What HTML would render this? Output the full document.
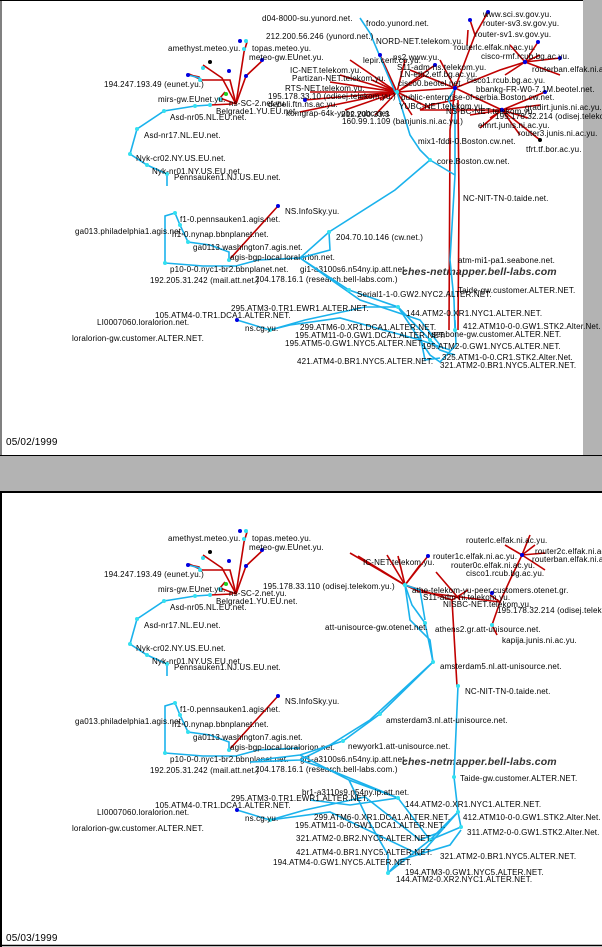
<!DOCTYPE html>
<html><head><meta charset="utf-8"><style>
html,body{margin:0;padding:0;background:#fff}
svg{display:block}
text{font-family:"Liberation Sans",sans-serif;font-size:8px;fill:#000;letter-spacing:0.15px}
.b{stroke:#1ab2ec;stroke-width:1.6;fill:none}
.r{stroke:#c00000;stroke-width:1.6;fill:none}
.k{stroke:#000;stroke-width:0.7;fill:none}
.cn{fill:#33e0f0}
.bn{fill:#0000e0}
.big{font-size:10.5px;font-weight:bold;font-style:italic;fill:#333}
.d{font-size:10px}
</style></head><body>
<svg width="602" height="947" viewBox="0 0 602 947" xmlns="http://www.w3.org/2000/svg">
<rect x="0" y="0" width="602" height="947" fill="#fff"/>
<!-- top panel frame -->
<rect x="583" y="0" width="19" height="456" fill="#b3b3b3"/>
<rect x="0" y="455" width="602" height="37" fill="#b3b3b3"/>
<line x1="0" y1="455.5" x2="602" y2="455.5" stroke="#000" stroke-width="1"/>
<line x1="0" y1="492" x2="602" y2="492" stroke="#000" stroke-width="2"/>
<line x1="1" y1="0" x2="1" y2="456" stroke="#000" stroke-width="1"/>
<line x1="0" y1="0.5" x2="583" y2="0.5" stroke="#000" stroke-width="1"/>
<line x1="1" y1="492" x2="1" y2="947" stroke="#000" stroke-width="2"/>
<line x1="0" y1="945.5" x2="602" y2="945.5" stroke="#000" stroke-width="1.5"/>
<text class="d" x="6" y="445">05/02/1999</text>
<text class="d" x="6" y="941">05/03/1999</text>

<!-- shared left part (Belgrade / EUnet / agis) -->
<defs>
<g id="left">
<polyline class="b" points="210,105 195,106 164,111 137,129 130,154 147,165 167,174 167,186"/>
<polyline class="r" points="210,105 232,104"/>
<polyline class="r" points="236,104 244,52 247,42"/>
<polyline class="r" points="236,104 222,78 203,65"/>
<polyline class="r" points="236,104 220,98 225,92"/>
<polyline class="r" points="236,104 246,76 263,60"/>
<polyline class="r" points="236,104 230,80 202,80"/>
<polyline class="r" points="202,80 189,74"/>
<polyline class="r" points="201,81 199,77 190,75"/>
<line class="b" x1="188" y1="75" x2="200" y2="78"/>
<circle class="cn" cx="210" cy="105" r="2"/><circle class="cn" cx="195" cy="106" r="2"/><circle class="cn" cx="164" cy="111" r="2"/><circle class="cn" cx="137" cy="129" r="2"/><circle class="cn" cx="130" cy="154" r="2"/><circle class="cn" cx="147" cy="165" r="2"/><circle class="cn" cx="167" cy="174" r="2"/>
<circle class="cn" cx="244" cy="49" r="2"/><circle class="bn" cx="240" cy="41" r="2"/><circle class="cn" cx="246" cy="41" r="2"/>
<circle class="cn" cx="203" cy="68" r="2"/><circle cx="210" cy="62" r="2"/><circle class="bn" cx="229" cy="71" r="2"/><circle class="bn" cx="262" cy="60" r="2"/>
<circle class="cn" cx="200" cy="80" r="2"/><circle class="bn" cx="188" cy="75" r="2"/><circle class="bn" cx="246" cy="76" r="2"/><circle class="cn" cx="220" cy="99" r="2"/><circle cx="226" cy="94" r="2" fill="#2c2"/>
<text x="168" y="51">amethyst.meteo.yu.</text><text x="252" y="51">topas.meteo.yu.</text><text x="249" y="60">meteo-gw.EUnet.yu.</text>
<text x="104" y="87">194.247.193.49 (eunet.yu.)</text>
<text x="158" y="102">mirs-gw.EUnet.yu.</text><text x="229" y="106">ns-SC-2.net.yu.</text>
<text x="216" y="114">Belgrade1.YU.EU.net.</text>
<text x="170" y="120">Asd-nr05.NL.EU.net.</text>
<text x="144" y="138">Asd-nr17.NL.EU.net.</text>
<text x="136" y="161">Nyk-cr02.NY.US.EU.net.</text>
<text x="152" y="174">Nyk-nr01.NY.US.EU.net.</text>
<text x="174" y="180">Pennsauken1.NJ.US.EU.net.</text>
<!-- agis -->
<polyline class="b" points="165,263 165,216 175,213 180,225 188,242 210,245 229,252 229,260"/>
<polyline class="b" points="165,263 203,266 236,266 258,260 300,258"/>
<polyline class="r" points="229,260 278,206"/>
<circle class="bn" cx="278" cy="206" r="2"/><circle class="cn" cx="229" cy="260" r="2"/><circle class="cn" cx="165" cy="263" r="2"/><circle class="cn" cx="175" cy="213" r="2"/><circle class="cn" cx="180" cy="225" r="2"/><circle class="cn" cx="188" cy="242" r="2"/>
<text x="285" y="214">NS.InfoSky.yu.</text>
<text x="180" y="222">f1-0.pennsauken1.agis.net.</text>
<text x="75" y="234">ga013.philadelphia1.agis.net.</text>
<text x="172" y="237">h1-0.nynap.bbnplanet.net.</text>
<text x="193" y="250">ga0113.washington7.agis.net.</text>
<text x="230" y="260">agis-bgp-local.loralorion.net.</text>
<text x="170" y="272">p10-0-0.nyc1-br2.bbnplanet.net.</text>
<text x="150" y="283">192.205.31.242 (mail.att.net.)</text>
<text x="255" y="282">204.178.16.1 (research.bell-labs.com.)</text>
<text x="300" y="272">gi1-a3100s6.n54ny.ip.att.net.</text>
<text class="big" x="402" y="275">ches-netmapper.bell-labs.com</text>
</g>
</defs>

<use href="#left"/>
<use href="#left" transform="translate(0,490)"/>

<!-- ===== TOP PANEL specific ===== -->
<!-- red hubs -->
<g class="r">
<polyline points="397,92 350,60"/><polyline points="397,92 340,75"/><polyline points="397,92 330,82"/><polyline points="397,92 310,92"/>
<polyline points="397,92 305,100"/><polyline points="397,92 300,112"/><polyline points="397,92 345,110"/><polyline points="397,92 375,115"/>
<polyline points="397,92 380,55"/><polyline points="397,92 372,80"/><polyline points="397,92 405,60"/><polyline points="397,92 425,75"/>
<polyline points="397,92 435,65"/><polyline points="397,92 455,88"/><polyline points="397,92 412,115"/><polyline points="397,92 430,108"/>
<polyline points="397,92 380,100"/><polyline points="397,92 358,98"/>
<polyline points="455,88 475,35 470,20"/><polyline points="475,35 488,12"/><polyline points="467,45 468,30"/>
<polyline points="455,88 500,70 525,62"/><polyline points="525,62 510,45"/><polyline points="525,62 538,42"/><polyline points="525,62 560,58"/><polyline points="525,62 560,75"/><polyline points="525,62 505,75"/><polyline points="525,62 540,55"/>
<polyline points="455,88 502,110"/><polyline points="502,110 540,105"/><polyline points="502,110 528,118"/><polyline points="502,110 540,140"/><polyline points="502,110 480,128"/><polyline points="502,110 520,135"/><polyline points="502,110 490,118"/><polyline points="502,110 545,92"/><polyline points="502,110 470,115"/>
<polyline points="455,88 450,130 449,330"/><polyline points="458,100 459,200 458,330"/><polyline points="455,100 430,105 420,110 502,110"/>
<polyline points="455,88 440,60"/><polyline points="455,88 410,70"/>
</g>
<g class="b">
<polyline points="360,18 370,33 395,92"/>
<polyline points="397,92 410,135 420,150 430,160 455,175"/>
<polyline points="430,160 395,190 329,232 300,258"/>
<polyline points="455,88 448,100 455,110 455,175 450,260 454,300 455,330"/>
<polyline points="300,258 349,290 398,307 430,340"/>
<polyline points="300,258 360,300 420,320 440,345"/>
<polyline points="300,258 330,250 329,232"/>
<polyline points="237,320 270,330 305,320 365,307 398,307 440,350 455,355"/>
<polyline points="270,330 290,325 340,318 420,340 450,350"/>
<polyline points="398,307 430,355 440,362 456,345 455,320"/>
<polyline points="420,335 425,360 440,358"/>
</g>
<circle class="cn" cx="397" cy="92" r="2.2"/><circle class="bn" cx="455" cy="88" r="2.2"/><circle class="bn" cx="502" cy="110" r="2.2"/><circle class="bn" cx="525" cy="62" r="2.2"/>
<circle class="cn" cx="430" cy="160" r="2"/><circle class="cn" cx="329" cy="232" r="2"/><circle class="cn" cx="349" cy="290" r="2"/><circle class="cn" cx="398" cy="307" r="2"/><circle class="cn" cx="430" cy="340" r="2"/><circle class="cn" cx="270" cy="330" r="2"/><circle class="bn" cx="237" cy="320" r="2"/><circle class="cn" cx="455" cy="330" r="2"/>
<circle class="bn" cx="470" cy="20" r="2"/><circle class="bn" cx="488" cy="12" r="2"/><circle class="bn" cx="560" cy="58" r="2"/><circle class="bn" cx="545" cy="92" r="2"/><circle class="bn" cx="538" cy="42" r="2"/><circle cx="540" cy="140" r="2"/><circle class="bn" cx="305" cy="100" r="2"/><circle class="bn" cx="380" cy="55" r="2"/><circle class="bn" cx="435" cy="65" r="2"/>
<text x="262" y="21">d04-8000-su.yunord.net.</text>
<text x="366" y="26">frodo.yunord.net.</text>
<text x="266" y="39">212.200.56.246 (yunord.net.)</text>
<text x="376" y="44">NORD-NET.telekom.yu.</text>
<text x="483" y="17">www.sci.sv.gov.yu.</text><text x="483" y="26">router-sv3.sv.gov.yu.</text>
<text x="475" y="37">router-sv1.sv.gov.yu.</text>
<text x="454" y="50">routerlc.elfak.ni.ac.yu.</text>
<text x="481" y="59">cisco-rmf.rcub.bg.ac.yu.</text>
<text x="532" y="72">routerban.elfak.ni.ac.yu.</text>
<text x="363" y="63">lepir.cent.co.yu.</text>
<text x="393" y="60">ns2.www.yu.</text>
<text x="290" y="73">IC-NET.telekom.yu.</text>
<text x="292" y="81">Partizan-NET.telekom.yu.</text>
<text x="397" y="70">S11-adm-ns.telekom.yu.</text>
<text x="400" y="77">LN-eth2.etf.bg.ac.yu.</text>
<text x="398" y="86">cisco0.beotel.net.</text>
<text x="467" y="83">cisco1.rcub.bg.ac.yu.</text>
<text x="476" y="92">bbankg-FR-W0-7.1M.beotel.net.</text>
<text x="285" y="91">RTS-NET.telekom.yu.</text>
<text x="268" y="99">195.178.33.10 (odisej.telekom.yu.)</text>
<text x="268" y="107">debeli.ftn.ns.ac.yu.</text>
<text x="286" y="116">komgrap-64k-yubc.yubc.net.</text>
<text x="342" y="124">160.99.1.109 (banjunis.ni.ac.yu.)</text>
<text x="401" y="100">public-enterprise-of-serbia.Boston.cw.net.</text>
<text x="399" y="109">YUBC-NET.telekom.yu.</text>
<text x="341" y="117">212.200.33.3</text>
<text x="446" y="114">NS-BC-NET.telekom.yu.</text>
<text x="525" y="110">gradirt.junis.ni.ac.yu.</text>
<text x="495" y="119">195.178.32.214 (odisej.telekom.yu.)</text>
<text x="478" y="128">elmrt.junis.ni.ac.yu.</text>
<text x="518" y="136">router3.junis.ni.ac.yu.</text>
<text x="526" y="152">tfrt.tf.bor.ac.yu.</text>
<text x="418" y="144">mix1-fddi-0.Boston.cw.net.</text>
<text x="437" y="164">core.Boston.cw.net.</text>
<text x="463" y="201">NC-NIT-TN-0.taide.net.</text>
<text x="336" y="240">204.70.10.146 (cw.net.)</text>
<text x="458" y="263">atm-mi1-pa1.seabone.net.</text>
<text x="458" y="293">Taide-gw.customer.ALTER.NET.</text>
<text x="357" y="297">Serial1-1-0.GW2.NYC2.ALTER.NET.</text>
<text x="406" y="316">144.ATM2-0.XR1.NYC1.ALTER.NET.</text>
<text x="463" y="329">412.ATM10-0-0.GW1.STK2.Alter.Net.</text>
<text x="231" y="311">295.ATM3-0.TR1.EWR1.ALTER.NET.</text>
<text x="155" y="318">105.ATM4-0.TR1.DCA1.ALTER.NET.</text>
<text x="97" y="325">LI0007060.loralorion.net.</text>
<text x="245" y="331">ns.cg.yu.</text>
<text x="300" y="330">299.ATM6-0.XR1.DCA1.ALTER.NET.</text>
<text x="295" y="338">195.ATM11-0-0.GW1.DCA1.ALTER.NET.</text>
<text x="432" y="337">seabone-gw.customer.ALTER.NET.</text>
<text x="72" y="341">loralorion-gw.customer.ALTER.NET.</text>
<text x="285" y="346">195.ATM5-0.GW1.NYC5.ALTER.NET.</text>
<text x="422" y="349">195.ATM2-0.GW1.NYC5.ALTER.NET.</text>
<text x="442" y="360">325.ATM1-0-0.CR1.STK2.Alter.Net.</text>
<text x="297" y="364">421.ATM4-0.BR1.NYC5.ALTER.NET.</text>
<text x="440" y="368">321.ATM2-0.BR1.NYC5.ALTER.NET.</text>

<!-- ===== BOTTOM PANEL specific ===== -->
<g class="r">
<polyline points="405,585 350,553"/><polyline points="405,585 358,556"/><polyline points="405,585 387,555"/><polyline points="405,585 398,556"/><polyline points="405,585 420,565"/><polyline points="405,585 428,556"/>
<polyline points="405,585 452,600 457,686"/><polyline points="405,585 420,592 500,602"/><polyline points="452,600 468,590"/>
<polyline points="500,602 510,580 522,555"/><polyline points="522,555 535,545"/><polyline points="522,555 545,553"/><polyline points="522,555 505,545"/><polyline points="522,555 530,535"/><polyline points="522,555 545,570"/>
<polyline points="500,602 492,625 497,635"/><polyline points="500,602 490,595"/><polyline points="436,572 460,600"/>
</g>
<g class="b">
<polyline points="405,585 412,605 425,623 433,662"/><polyline points="405,585 410,620 430,640 433,662"/><polyline points="405,585 420,590 425,620"/>
<polyline points="433,662 380,714 343,741 300,755 258,760"/><polyline points="433,662 370,720 330,745 300,760 250,762"/>
<polyline points="458,686 454,777 458,812 461,827"/>
<polyline points="300,755 349,780 398,798 430,840 458,812"/>
<polyline points="300,760 330,770 398,798"/>
<polyline points="349,780 368,820 388,855 388,873 430,840 461,827"/>
<polyline points="237,810 270,820 305,810 365,797 420,840 440,832"/>
<polyline points="270,820 330,812 420,855 458,812"/>
<polyline points="388,873 400,860 450,845 461,830"/>
<polyline points="310,800 350,805 398,798"/>
</g>
<circle class="cn" cx="405" cy="585" r="2.2"/><circle class="cn" cx="425" cy="623" r="2"/><circle class="cn" cx="433" cy="662" r="2"/><circle class="cn" cx="458" cy="686" r="2"/><circle class="cn" cx="380" cy="714" r="2"/><circle class="cn" cx="343" cy="741" r="2"/><circle class="cn" cx="454" cy="777" r="2"/><circle class="cn" cx="398" cy="798" r="2"/><circle class="cn" cx="458" cy="812" r="2"/><circle class="cn" cx="461" cy="827" r="2"/><circle class="cn" cx="388" cy="873" r="2"/><circle class="cn" cx="430" cy="840" r="2"/><circle class="bn" cx="522" cy="555" r="2"/><circle class="bn" cx="428" cy="556" r="2"/><circle class="bn" cx="492" cy="593" r="2"/><circle class="cn" cx="492" cy="625" r="2"/><circle class="bn" cx="237" cy="810" r="2"/><circle class="cn" cx="270" cy="820" r="2"/>
<text x="466" y="543">routerlc.elfak.ni.ac.yu.</text>
<text x="433" y="559">router1c.elfak.ni.ac.yu.</text>
<text x="535" y="554">router2c.elfak.ni.ac.yu.</text>
<text x="532" y="562">routerban.elfak.ni.ac.yu.</text>
<text x="363" y="565">IC-NET.telekom.yu.</text>
<text x="451" y="568">router0c.elfak.ni.ac.yu.</text>
<text x="466" y="576">cisco1.rcub.bg.ac.yu.</text>
<text x="263" y="589">195.178.33.110 (odisej.telekom.yu.)</text>
<text x="412" y="593">athe-telekom-yu-peer.customers.otenet.gr.</text>
<text x="423" y="600">S11-adm-ni.telekom.yu.</text>
<text x="443" y="607">NISBC-NET.telekom.yu.</text>
<text x="497" y="613">195.178.32.214 (odisej.telekom.yu.)</text>
<text x="325" y="630">att-unisource-gw.otenet.net.</text>
<text x="435" y="632">athens2.gr.att-unisource.net.</text>
<text x="502" y="643">kapija.junis.ni.ac.yu.</text>
<text x="440" y="669">amsterdam5.nl.att-unisource.net.</text>
<text x="465" y="694">NC-NIT-TN-0.taide.net.</text>
<text x="386" y="723">amsterdam3.nl.att-unisource.net.</text>
<text x="348" y="749">newyork1.att-unisource.net.</text>
<text x="460" y="781">Taide-gw.customer.ALTER.NET.</text>
<text x="302" y="795">br1-a3110s9.n54ny.ip.att.net.</text>
<text x="231" y="801">295.ATM3-0.TR1.EWR1.ALTER.NET.</text>
<text x="155" y="808">105.ATM4-0.TR1.DCA1.ALTER.NET.</text>
<text x="405" y="807">144.ATM2-0.XR1.NYC1.ALTER.NET.</text>
<text x="97" y="815">LI0007060.loralorion.net.</text>
<text x="245" y="821">ns.cg.yu.</text>
<text x="463" y="820">412.ATM10-0-0.GW1.STK2.Alter.Net.</text>
<text x="314" y="820">299.ATM6-0.XR1.DCA1.ALTER.NET.</text>
<text x="72" y="831">loralorion-gw.customer.ALTER.NET.</text>
<text x="295" y="828">195.ATM11-0-0.GW1.DCA1.ALTER.NET.</text>
<text x="467" y="835">311.ATM2-0-0.GW1.STK2.Alter.Net.</text>
<text x="296" y="841">321.ATM2-0.BR2.NYC5.ALTER.NET.</text>
<text x="296" y="855">421.ATM4-0.BR1.NYC5.ALTER.NET.</text>
<text x="440" y="859">321.ATM2-0.BR1.NYC5.ALTER.NET.</text>
<text x="273" y="865">194.ATM4-0.GW1.NYC5.ALTER.NET.</text>
<text x="405" y="875">194.ATM3-0.GW1.NYC5.ALTER.NET.</text>
<text x="396" y="882">144.ATM2-0.XR2.NYC1.ALTER.NET.</text>
</svg>
</body></html>
